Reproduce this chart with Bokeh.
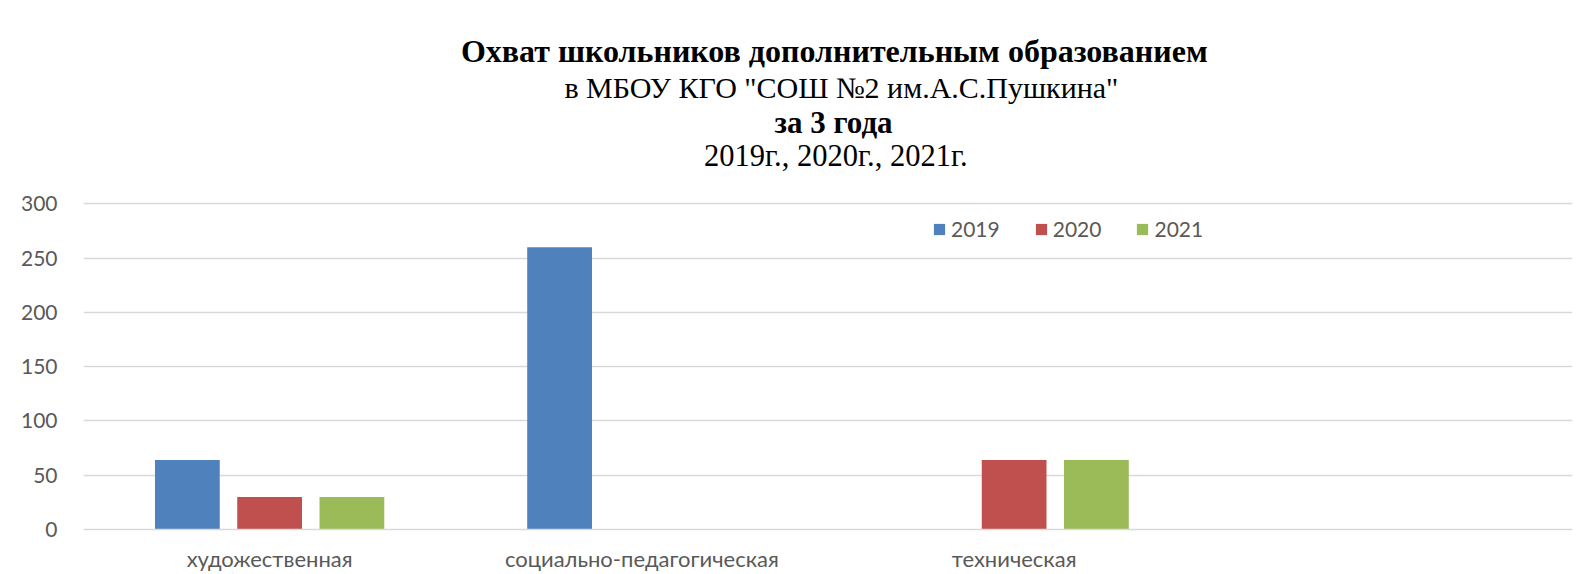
from bokeh.plotting import figure
from bokeh.models import (FactorRange, Range1d, FixedTicker, Legend, LegendItem,
                          Label, ColumnDataSource)
from bokeh.transform import dodge
from bokeh.embed import file_html
from bokeh.resources import INLINE

# ---- data ----
categories = ["художественная", "социально-педагогическая", "техническая", " "]
years = ["2019", "2020", "2021"]
values_2019 = [64, 260, 0, 0]
values_2020 = [30, 0, 64, 0]
values_2021 = [30, 0, 64, 0]
y_ticks = [0, 50, 100, 150, 200, 250, 300]
title_lines = [
    "Охват школьников дополнительным образованием",
    "в МБОУ КГО \"СОШ №2 им.А.С.Пушкина\"",
    "за 3 года",
    "2019г., 2020г., 2021г.",
]
title_bold = [True, False, True, False]
title_sizes = ["32px", "30px", "31px", "30.5px"]

# ---- layout / styling ----
W, H = 1576, 574
FRAME_LEFT, FRAME_RIGHT_BORDER, FRAME_BOTTOM_BORDER = 83, 4, 41
FRAME_H = H - FRAME_BOTTOM_BORDER          # frame spans canvas top .. bottom axis
PX_PER_UNIT = 328 / 300.0                  # 0..300 occupies 328 px
Y_END = FRAME_H / PX_PER_UNIT              # extra headroom holds the titles

def page_y_to_data(py):
    return (FRAME_H - py) / PX_PER_UNIT

title_page_y = [50.5, 87.5, 123, 157]
title_x = [2.017, 2.036, 2.015, 2.021]     # synthetic categorical coordinates

colors = ["#4F81BD", "#C0504D", "#9BBB59"]
offsets = [-0.221, 0.0, 0.221]
bar_width = 0.174
grid_color = "#D9D9D9"
text_color = "#595959"
sans = "Lato"
serif = "Liberation Serif"

src = ColumnDataSource(dict(cat=categories, y2019=values_2019,
                            y2020=values_2020, y2021=values_2021))

p = figure(x_range=FactorRange(*categories), y_range=Range1d(0, Y_END),
           width=W, height=H, output_backend="svg", toolbar_location=None,
           min_border_left=FRAME_LEFT, min_border_right=FRAME_RIGHT_BORDER,
           min_border_top=0, min_border_bottom=FRAME_BOTTOM_BORDER)
p.outline_line_color = None
p.background_fill_color = "white"
p.border_fill_color = "white"

renderers = []
for yr, off, col in zip(years, offsets, colors):
    r = p.vbar(x=dodge("cat", off, range=p.x_range), top="y" + yr, width=bar_width,
               source=src, fill_color=col, line_color=None)
    renderers.append(r)

# axes
p.xgrid.grid_line_color = None
p.ygrid.grid_line_color = grid_color
p.ygrid.grid_line_width = 1.5
p.yaxis.ticker = FixedTicker(ticks=y_ticks)
p.yaxis.axis_line_color = None
p.yaxis.major_tick_line_color = None
p.yaxis.minor_tick_line_color = None
p.yaxis.major_label_standoff = 20
p.yaxis.major_label_text_font = sans
p.yaxis.major_label_text_font_size = "21px"
p.yaxis.major_label_text_color = text_color

p.xaxis.axis_line_color = grid_color
p.xaxis.axis_line_width = 1.5
p.xaxis.major_tick_line_color = None
p.xaxis.minor_tick_line_color = None
p.xaxis.major_label_standoff = 9
p.xaxis.major_label_text_font = sans
p.xaxis.major_label_text_font_size = "22px"
p.xaxis.major_label_text_color = text_color

# legend
legend = Legend(items=[LegendItem(label=yr, renderers=[r]) for yr, r in zip(years, renderers)],
                orientation="horizontal", location=(849, 288))
legend.padding = 0
legend.margin = 0
legend.spacing = 34
legend.label_standoff = 5
legend.glyph_width = 14
legend.glyph_height = 14
legend.border_line_color = None
legend.background_fill_alpha = 0
legend.label_text_font = sans
legend.label_text_font_size = "21px"
legend.label_text_color = text_color
p.add_layout(legend)

# title lines
for txt, bold, size, tx, py in zip(title_lines, title_bold, title_sizes, title_x, title_page_y):
    p.add_layout(Label(x=tx, y=page_y_to_data(py), text=txt,
                       text_align="center", text_baseline="middle",
                       text_font=serif, text_font_size=size,
                       text_font_style="bold" if bold else "normal",
                       text_color="black"))

open("out.html", "w").write(file_html(p, INLINE))
